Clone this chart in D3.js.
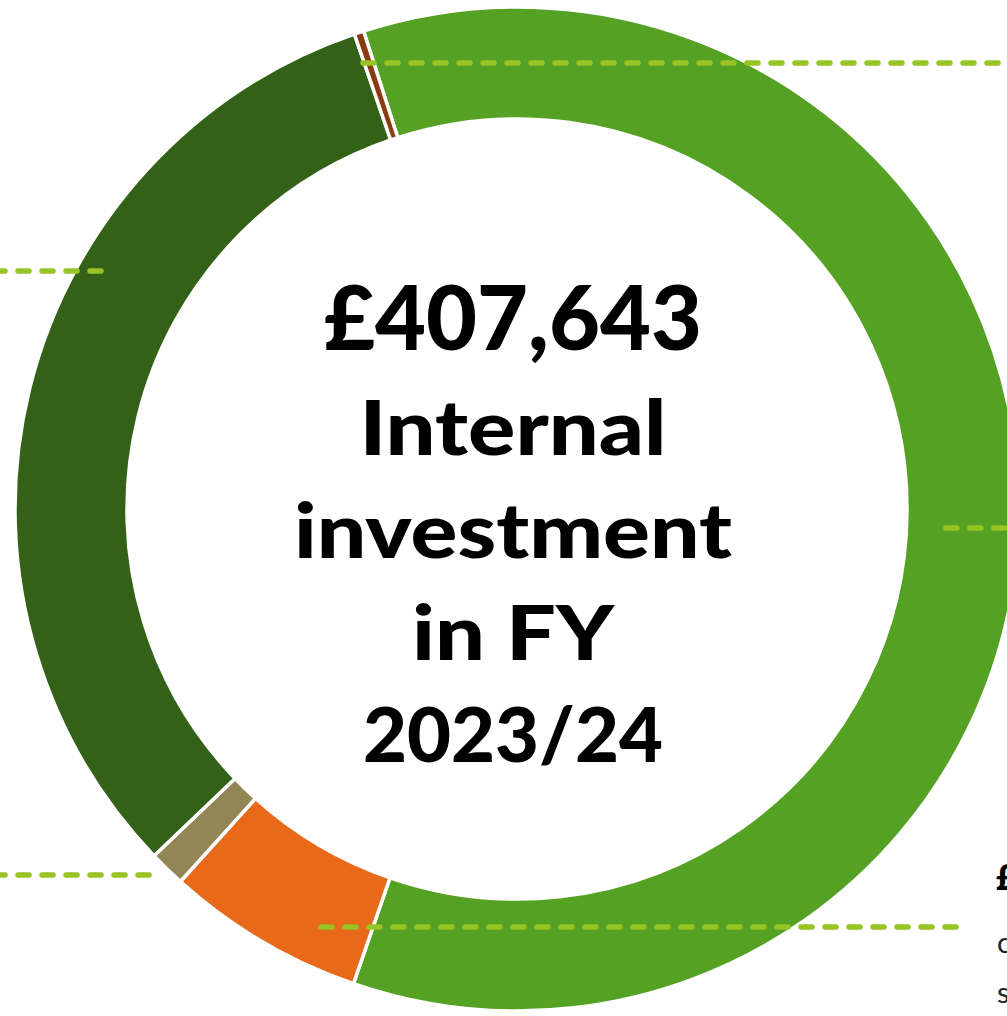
<!DOCTYPE html>
<html>
<head>
<meta charset="utf-8">
<script src="https://cdn.jsdelivr.net/npm/d3@7"></script>
<style>
  html, body { margin: 0; padding: 0; background: #ffffff; overflow: hidden; }
  svg { display: block; }
</style>
</head>
<body>
<svg id="chart" width="1007" height="1016"></svg>
<script>
// ---- data ----
const categories = ["Category A", "Category B", "Category C", "Category D", "Category E"];
const values = [245500, 26150, 4750, 130000, 1243];
const colors = ["#55a124", "#e8691a", "#938656", "#336117", "#8b3a10"];
const centreLines = ["£407,643", "Internal", "investment", "in FY", "2023/24"];
const sideLabel = ["£26,150", "consultancy", "services"];

// ---- layout ----
const W = 1007, H = 1016;
const cx = 517, cy = 509, rOuter = 502, rInner = 390;
const svg = d3.select("#chart");
const g = svg.append("g").attr("transform", `translate(${cx},${cy})`);

const toRad = d => d * Math.PI / 180;
const pie = d3.pie().sort(null)
  .startAngle(toRad(-17.8))
  .endAngle(toRad(-17.8 + 360));
const arc = d3.arc().innerRadius(rInner).outerRadius(rOuter);

const data = categories.map((c, i) => ({ cat: c, value: values[i], color: colors[i] }));

g.selectAll("path.slice")
  .data(pie.value(d => d.value)(data))
  .join("path")
  .attr("class", "slice")
  .attr("d", arc)
  .attr("fill", d => d.data.color)
  .attr("stroke", "#ffffff")
  .attr("stroke-width", 3.5)
  .attr("stroke-linejoin", "miter");

// ---- leader lines (dashed) ----
const leaders = [
  { x1: 363, x2: 1010, y: 63 },
  { x1: -6, x2: 106, y: 271 },
  { x1: 946, x2: 1012, y: 528 },
  { x1: -6, x2: 150, y: 875 },
  { x1: 321, x2: 961, y: 927 }
];
svg.selectAll("line.leader")
  .data(leaders)
  .join("line")
  .attr("class", "leader")
  .attr("x1", d => d.x1).attr("x2", d => d.x2)
  .attr("y1", d => d.y).attr("y2", d => d.y)
  .attr("stroke", "#97c424")
  .attr("stroke-width", 5.5)
  .attr("stroke-linecap", "round")
  .attr("stroke-dasharray", "11,13");

// ---- centre text ----
const lineSpec = [
  { y: 350, size: 90, w: 378 },
  { y: 455, size: 77, w: 307 },
  { y: 558, size: 77, w: 438 },
  { y: 660, size: 77, w: 202 },
  { y: 762, size: 77, w: 300 }
];
const tx = 513;
centreLines.forEach((t, i) => {
  const s = lineSpec[i];
  svg.append("text")
    .attr("x", tx - s.w / 2)
    .attr("y", s.y)
    .attr("font-family", "Lato, 'Open Sans', sans-serif")
    .attr("font-weight", 900)
    .attr("font-size", s.size)
    .attr("fill", "#000")
    .attr("textLength", s.w)
    .attr("lengthAdjust", "spacingAndGlyphs")
    .text(t);
});

// ---- partially visible label at right ----
svg.append("text")
  .attr("x", 996).attr("y", 890)
  .attr("font-family", "Lato, sans-serif").attr("font-weight", 900)
  .attr("font-size", 36).attr("fill", "#000").text(sideLabel[0]);
svg.append("text")
  .attr("x", 997).attr("y", 953)
  .attr("font-family", "Lato, sans-serif").attr("font-weight", 400)
  .attr("font-size", 29).attr("fill", "#222").text(sideLabel[1]);
svg.append("text")
  .attr("x", 997).attr("y", 1003)
  .attr("font-family", "Lato, sans-serif").attr("font-weight", 400)
  .attr("font-size", 29).attr("fill", "#222").text(sideLabel[2]);
</script>
</body>
</html>
